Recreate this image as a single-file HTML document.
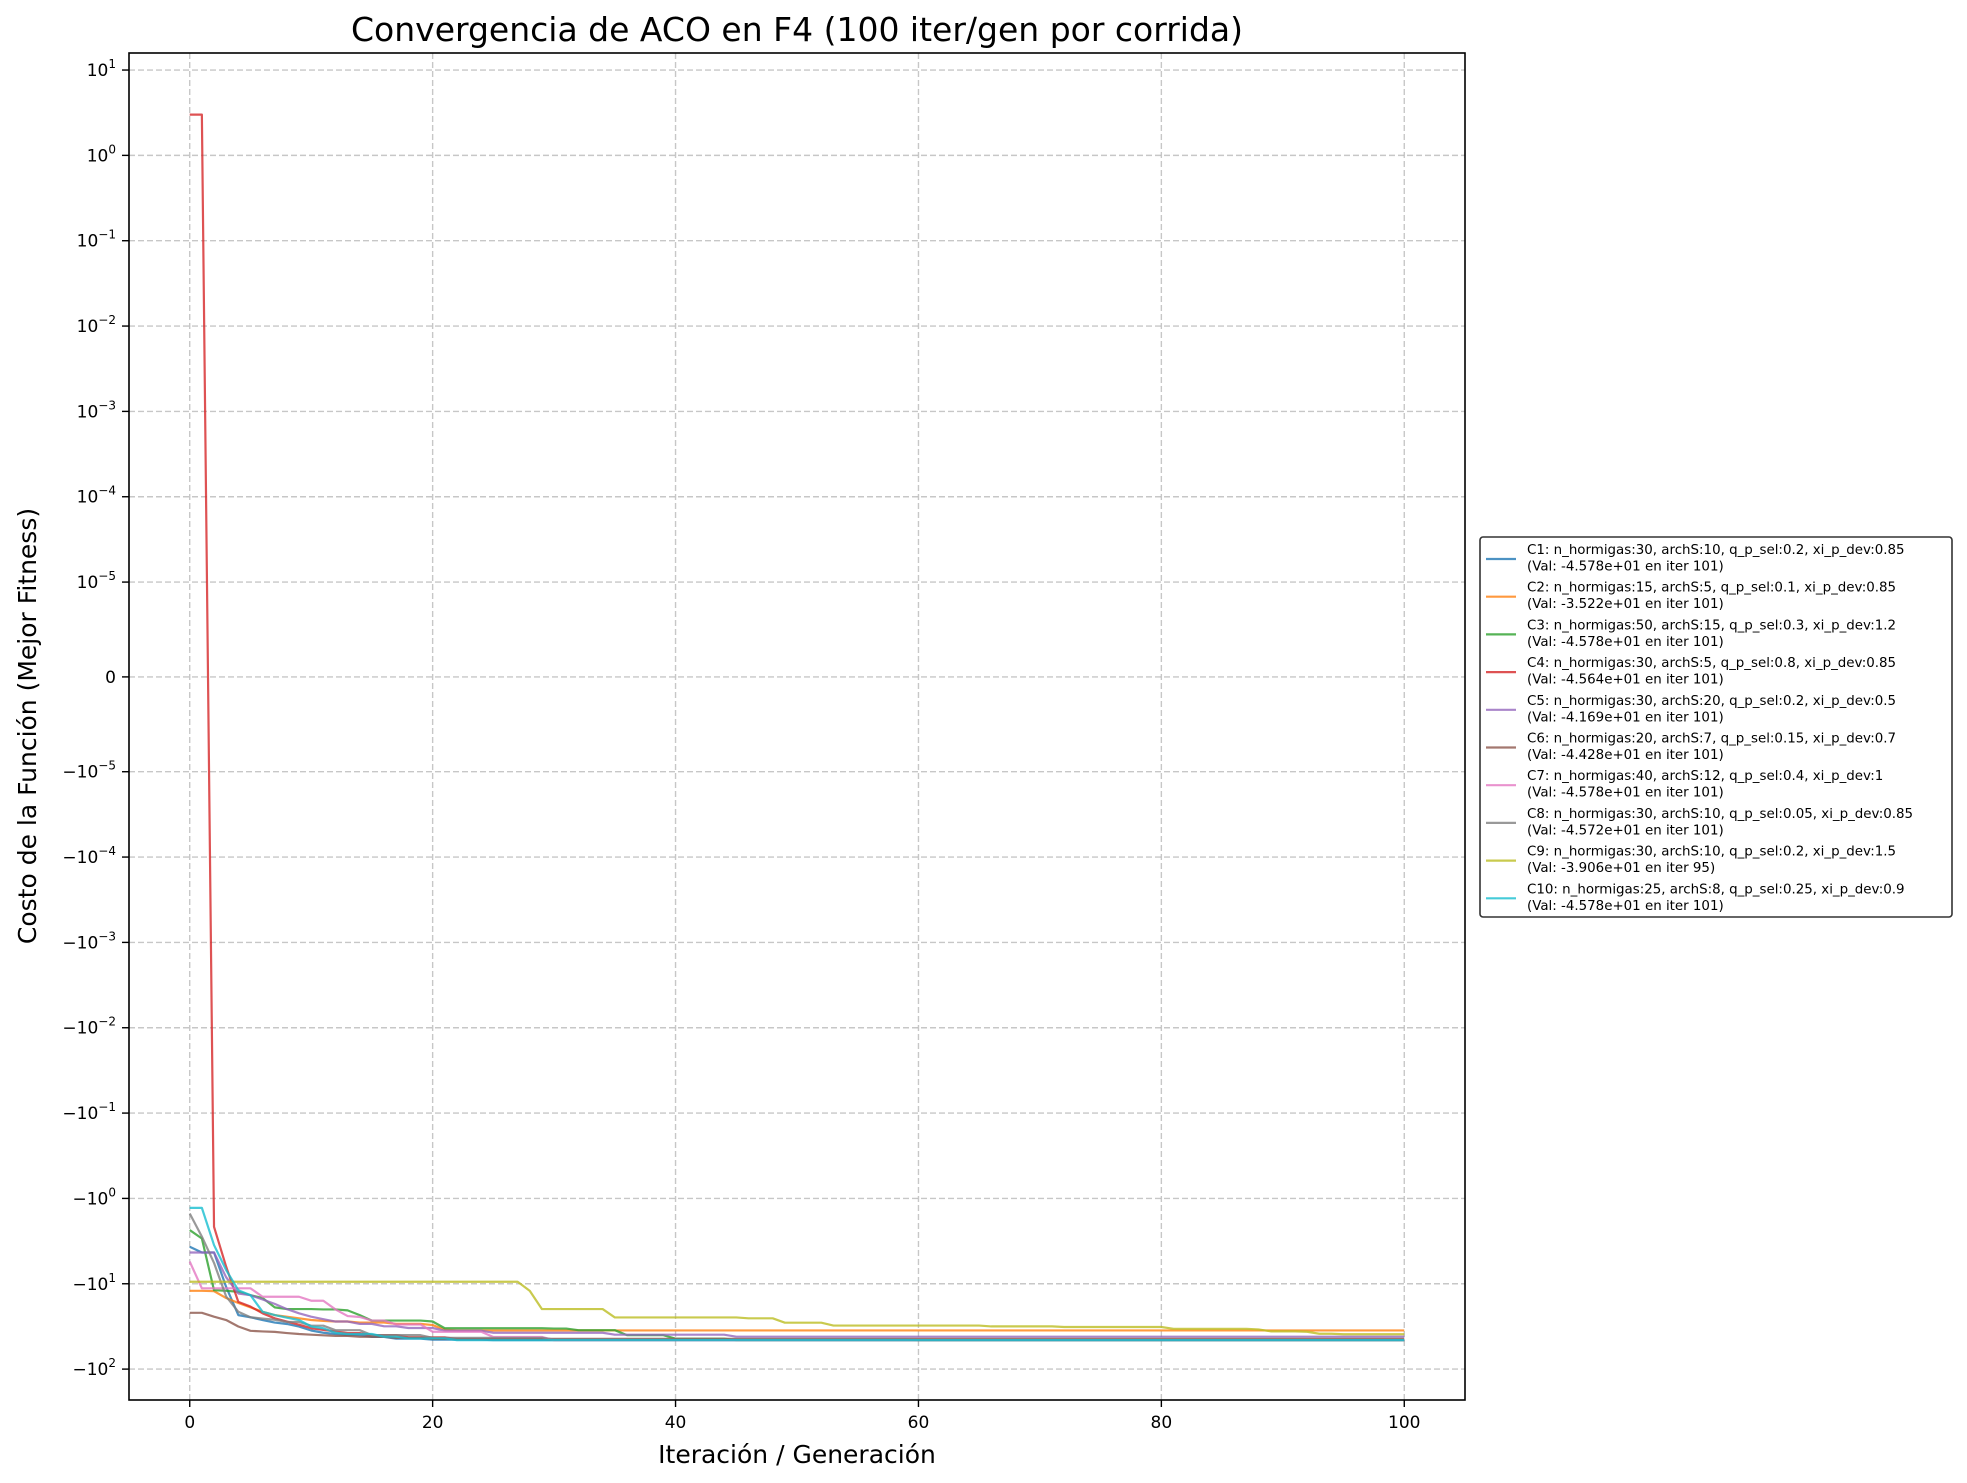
<!DOCTYPE html>
<html><head><meta charset="utf-8">
<style>
html,body{margin:0;padding:0;background:#fff;}
svg{display:block;font-family:"DejaVu Sans","Liberation Sans",sans-serif;}
</style></head>
<body>
<svg id="chart" width="1967" height="1483" viewBox="0 0 1967 1483" xmlns="http://www.w3.org/2000/svg">
<rect x="0" y="0" width="1967" height="1483" fill="#fff"/>
<text x="797" y="41" font-size="33" text-anchor="middle" fill="#000">Convergencia de ACO en F4 (100 iter/gen por corrida)</text>
<g id="grid"></g>
<g id="series"></g>
<rect x="129" y="53" width="1336" height="1347" fill="none" stroke="#000" stroke-width="1.6"/>
<g id="xticks"></g>
<g id="yticks"></g>
<text x="797" y="1463" font-size="25" text-anchor="middle">Iteración / Generación</text>
<text transform="translate(36,726) rotate(-90)" font-size="25" text-anchor="middle">Costo de la Función (Mejor Fitness)</text>
<g id="legend"></g>
</svg>
<script>
const xTicks = [0, 20, 40, 60, 80, 100];
const yTickVals = [10, 1, 0.1, 0.01, 0.001, 1e-4, 1e-5, 0, -1e-5, -1e-4, -1e-3, -1e-2, -0.1, -1, -10, -100];
const yTickLabels = [["","1"],["","0"],["","−1"],["","−2"],["","−3"],["","−4"],["","−5"],["0",null],["−","−5"],["−","−4"],["−","−3"],["−","−2"],["−","−1"],["−","0"],["−","1"],["−","2"]];
const seriesNames = ["C1","C2","C3","C4","C5","C6","C7","C8","C9","C10"];
const seriesColors = ["#1f77b4","#ff7f0e","#2ca02c","#d62728","#9467bd","#8c564b","#e377c2","#7f7f7f","#bcbd22","#17becf"];
const legendLine1 = [
"C1: n_hormigas:30, archS:10, q_p_sel:0.2, xi_p_dev:0.85",
"C2: n_hormigas:15, archS:5, q_p_sel:0.1, xi_p_dev:0.85",
"C3: n_hormigas:50, archS:15, q_p_sel:0.3, xi_p_dev:1.2",
"C4: n_hormigas:30, archS:5, q_p_sel:0.8, xi_p_dev:0.85",
"C5: n_hormigas:30, archS:20, q_p_sel:0.2, xi_p_dev:0.5",
"C6: n_hormigas:20, archS:7, q_p_sel:0.15, xi_p_dev:0.7",
"C7: n_hormigas:40, archS:12, q_p_sel:0.4, xi_p_dev:1",
"C8: n_hormigas:30, archS:10, q_p_sel:0.05, xi_p_dev:0.85",
"C9: n_hormigas:30, archS:10, q_p_sel:0.2, xi_p_dev:1.5",
"C10: n_hormigas:25, archS:8, q_p_sel:0.25, xi_p_dev:0.9"];
const legendLine2 = [
"(Val: -4.578e+01 en iter 101)","(Val: -3.522e+01 en iter 101)","(Val: -4.578e+01 en iter 101)",
"(Val: -4.564e+01 en iter 101)","(Val: -4.169e+01 en iter 101)","(Val: -4.428e+01 en iter 101)",
"(Val: -4.578e+01 en iter 101)","(Val: -4.572e+01 en iter 101)","(Val: -3.906e+01 en iter 95)",
"(Val: -4.578e+01 en iter 101)"];
// change points [iteration, best cost]; value holds until next change point
const c1 = [[0,-3.68],[1,-4.3],[2,-4.3],[3,-10.9],[4,-23.3],[5,-24.7],[6,-26.6],[7,-28.5],[8,-29.6],[9,-31.7],[10,-35.3],[11,-37.5],[12,-38.8],[13,-40],[15,-42],[17,-44],[20,-45.2],[25,-45.78]];
const c2 = [[0,-12.1],[2,-12.2],[3,-14.7],[4,-16.8],[5,-18.9],[6,-21.3],[7,-23.3],[8,-24.3],[9,-25.4],[10,-26.6],[11,-27.2],[12,-27.7],[14,-28.5],[17,-29.5],[20,-30.5],[21,-34.5],[22,-35.22]];
const c3 = [[0,-2.35],[1,-2.95],[2,-11.9],[3,-12.1],[4,-12.4],[5,-13.6],[6,-14.7],[7,-18.9],[8,-19.8],[11,-20],[13,-20.5],[14,-23.3],[15,-27],[20,-27.7],[21,-33.2],[30,-33.5],[32,-35],[36,-40],[40,-44],[45,-45.78]];
const c4 = [[0,3.0],[1,3.0],[2,-2.15],[3,-6.3],[4,-16.3],[5,-18.5],[6,-22.2],[7,-25.4],[8,-27.7],[9,-30.2],[10,-33.2],[11,-34.7],[12,-36.2],[13,-37.8],[15,-40],[18,-42.5],[22,-44.5],[30,-45.64]];
const c5 = [[0,-4.3],[2,-4.3],[3,-8.4],[4,-13],[5,-13.6],[6,-15.3],[7,-17.2],[8,-19.8],[9,-22.2],[10,-24.3],[11,-26],[12,-27.7],[14,-29.5],[16,-31.5],[18,-33],[21,-35.5],[25,-37.5],[35,-39.5],[45,-41.69]];
const c6 = [[0,-21.9],[1,-21.9],[2,-24.3],[3,-26.6],[4,-31.7],[5,-35.6],[6,-36.2],[7,-36.6],[8,-37.8],[9,-38.8],[10,-39.5],[11,-40.2],[12,-40.8],[14,-41.8],[17,-43],[20,-44.28]];
const c7 = [[0,-5.5],[1,-11.3],[5,-11.3],[6,-14.2],[9,-14.2],[10,-15.8],[11,-15.8],[12,-20],[13,-23.9],[14,-24.5],[15,-27],[17,-30],[20,-36.5],[25,-42],[30,-45.78]];
const c8 = [[0,-1.5],[1,-2.8],[2,-5.7],[3,-14.1],[4,-21.3],[5,-24.7],[6,-25.6],[7,-26.4],[8,-28],[10,-31],[12,-35],[15,-40],[20,-43],[30,-45],[60,-45.72]];
const c9 = [[0,-9.47],[27,-9.47],[28,-12.1],[29,-19.8],[34,-19.8],[35,-24.8],[45,-24.8],[46,-25.4],[48,-25.4],[49,-28.6],[52,-28.6],[53,-30.9],[65,-30.9],[66,-31.6],[72,-32.1],[80,-32.1],[81,-33.7],[88,-34.3],[89,-36.1],[92,-36.5],[93,-38.5],[95,-39.06]];
const c10 = [[0,-1.29],[1,-1.29],[2,-3.52],[3,-6.9],[4,-11.9],[5,-13.6],[6,-21.3],[7,-23.3],[8,-25],[9,-26.6],[10,-31.7],[11,-33.2],[12,-37.5],[13,-38.8],[16,-41.7],[18,-43.7],[22,-45.78]];
const allSeries = [c1,c2,c3,c4,c5,c6,c7,c8,c9,c10];
const lastIter = 100;

const NS = "http://www.w3.org/2000/svg";
const PL = 129, PR = 1465, PT = 53, PB = 1400;
const xMin = -5, xMax = 105;
function xScale(v){ return PL + (v - xMin) / (xMax - xMin) * (PR - PL); }
const LT = 1e-5, LINC = 1 / (1 - 0.1);
function symlog(v){ const a = Math.abs(v); if (a <= LT) return v / LT * LINC; return Math.sign(v) * (LINC + Math.log10(a / LT)); }
const Y0 = 676.9, PXU = 85.34;
function yScale(v){ return Y0 - symlog(v) * PXU; }
function mk(tag, attrs, parent){ const e = document.createElementNS(NS, tag); for (const k in attrs) e.setAttribute(k, attrs[k]); parent.appendChild(e); return e; }

const grid = document.getElementById('grid');
const xt = document.getElementById('xticks');
const yt = document.getElementById('yticks');
xTicks.forEach(t => {
  const x = xScale(t);
  const g = mk('line', {x1:x, x2:x, y1:PT, y2:PB, stroke:'#b0b0b0', 'stroke-width':1.4, 'stroke-dasharray':'6,3', opacity:0.7}, grid);
  
  
  const tk = mk('line', {x1:x, x2:x, y1:PB, y2:PB+7, stroke:'#000', 'stroke-width':1.4}, xt);
  
  
  const lb = mk('text', {x:x, y:PB+28, 'font-size':17, 'text-anchor':'middle'}, xt);
  lb.textContent = String(t);
  
  
});
yTickVals.forEach((v, i) => {
  const y = yScale(v);
  const g = mk('line', {x1:PL, x2:PR, y1:y, y2:y, stroke:'#b0b0b0', 'stroke-width':1.4, 'stroke-dasharray':'6,3', opacity:0.7}, grid);
  
  
  const tk = mk('line', {x1:PL-7, x2:PL, y1:y, y2:y, stroke:'#000', 'stroke-width':1.4}, yt);
  
  
  const lab = yTickLabels[i];
  const tx = mk('text', {x:PL-13, y:y+6, 'font-size':17, 'text-anchor':'end'}, yt);
  
  
  if (lab[1] === null) { tx.textContent = lab[0]; }
  else {
    const a = document.createElementNS(NS, 'tspan'); a.textContent = lab[0] + '10'; tx.appendChild(a);
    const b = document.createElementNS(NS, 'tspan'); b.setAttribute('dy', '-8'); b.setAttribute('font-size', '12'); b.textContent = lab[1]; tx.appendChild(b);
  }
});

const sg = document.getElementById('series');
allSeries.forEach((cp, si) => {
  const pts = [];
  let k = 0, cur = cp[0][1];
  for (let it = 0; it <= lastIter; it++) {
    while (k < cp.length && cp[k][0] <= it) { cur = cp[k][1]; k++; }
    pts.push(xScale(it).toFixed(2) + ',' + yScale(cur).toFixed(2));
  }
  const p = mk('polyline', {points: pts.join(' '), fill:'none', stroke: seriesColors[si], 'stroke-width':2.2, 'stroke-opacity':0.8, 'stroke-linejoin':'round'}, sg);
  
  
});

const lg = document.getElementById('legend');
const box = mk('rect', {x:1480, y:537, width:472, height:380, rx:3, fill:'#fff', stroke:'#333', 'stroke-width':1.6}, lg);


seriesNames.forEach((n, i) => {
  const y0 = 549 + i * 37.7;
  const g = mk('g', {}, lg);
  
  
  mk('line', {x1:1486, x2:1516, y1:y0+10, y2:y0+10, stroke:seriesColors[i], 'stroke-width':2.2, 'stroke-opacity':0.8}, g);
  const t1 = mk('text', {x:1527, y:y0+5, 'font-size':13.4}, g); t1.textContent = legendLine1[i];
  const t2 = mk('text', {x:1527, y:y0+21.5, 'font-size':13.4}, g); t2.textContent = legendLine2[i];
});
</script>
</body></html>
